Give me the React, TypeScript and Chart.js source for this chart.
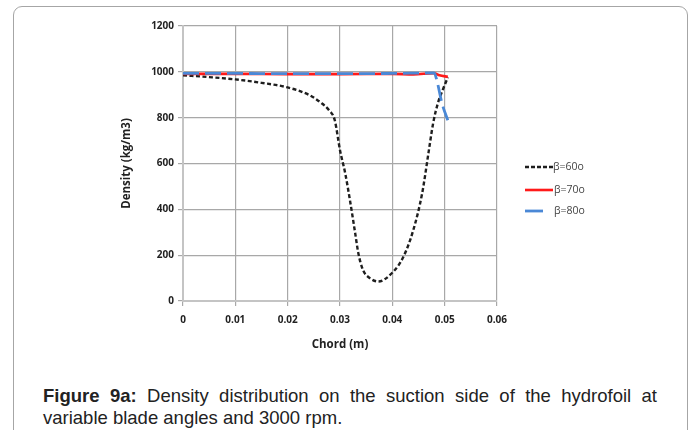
import React, { useEffect, useRef } from "react";
import { Chart, registerables } from "chart.js";

Chart.register(...registerables);

// Chord positions (m) and density (kg/m3) on the suction side
const chord60 = [0, 0.005, 0.01, 0.015, 0.02, 0.024, 0.0262, 0.028, 0.029, 0.03, 0.031, 0.0319, 0.0329, 0.0335, 0.0344, 0.0357, 0.0373, 0.0401, 0.0421, 0.044, 0.0457, 0.0469, 0.0478, 0.0487, 0.0497, 0.0506];
const density60 = [985, 977, 967, 952, 932, 900, 868, 830, 789, 658, 557, 440, 296, 209, 135, 100, 85, 126, 192, 309, 470, 645, 776, 863, 925, 976];

const chord70 = [0, 0.01, 0.02, 0.03, 0.04, 0.044, 0.048, 0.049, 0.0506];
const density70 = [991, 991, 990, 990, 991, 989, 994, 985, 978];

const chord80 = [0, 0.01, 0.02, 0.03, 0.04, 0.048, 0.0485, 0.0495, 0.0506];
const density80 = [993, 993, 992, 992, 993, 995, 963, 862, 789];

const seriesLabels = ["\u03b2=60o", "\u03b2=70o", "\u03b2=80o"];
const xTicks = [0, 0.01, 0.02, 0.03, 0.04, 0.05, 0.06];
const yTicks = [0, 200, 400, 600, 800, 1000, 1200];

const toPoints = (xs: number[], ys: number[]) => xs.map((x, i) => ({ x, y: ys[i] }));

const tickFont = { family: "'Open Sans', sans-serif", size: 10, weight: "bold" as const };
const titleFont = { family: "'Open Sans', sans-serif", size: 11.5, weight: "bold" as const };

// Vertical legend drawn to the right of the plot
const sideLegend = {
  id: "sideLegend",
  afterDraw(chart: any) {
    const ctx = chart.ctx;
    const rows = [
      { y: 157, x1: 415, x2: 443, tx: 443 },
      { y: 180, x1: 415, x2: 443, tx: 444 },
      { y: 201, x1: 415, x2: 433, tx: 444 },
    ];
    ctx.save();
    chart.data.datasets.forEach((ds: any, i: number) => {
      const r = rows[i];
      ctx.beginPath();
      ctx.strokeStyle = ds.borderColor;
      ctx.lineWidth = ds.borderWidth;
      ctx.setLineDash(i === 0 ? [4, 2] : []);
      ctx.moveTo(r.x1, r.y);
      ctx.lineTo(r.x2, r.y);
      ctx.stroke();
      ctx.setLineDash([]);
      ctx.fillStyle = "#444";
      ctx.font = "10.5px 'Open Sans', sans-serif";
      ctx.textBaseline = "middle";
      ctx.textAlign = "left";
      ctx.fillText(ds.label, r.tx, r.y);
    });
    ctx.restore();
  },
};

function DensityChart() {
  const ref = useRef<HTMLCanvasElement | null>(null);
  useEffect(() => {
    if (!ref.current) return;
    const chart = new Chart(ref.current, {
      type: "line",
      data: {
        datasets: [
          {
            label: seriesLabels[0],
            data: toPoints(chord60, density60),
            borderColor: "#1e1e1e",
            borderWidth: 2.4,
            borderDash: [4, 2.5],
            pointRadius: 0,
            cubicInterpolationMode: "monotone",
            order: 3,
          },
          {
            label: seriesLabels[1],
            data: toPoints(chord70, density70),
            borderColor: "#ff1a1a",
            borderWidth: 2.6,
            pointRadius: 0,
            cubicInterpolationMode: "monotone",
            order: 2,
          },
          {
            label: seriesLabels[2],
            data: toPoints(chord80, density80),
            borderColor: "#4a88d6",
            borderWidth: 2.8,
            borderDash: [16, 6],
            pointRadius: 0,
            cubicInterpolationMode: "monotone",
            order: 1,
          },
        ],
      },
      options: {
        responsive: false,
        animation: false,
        devicePixelRatio: 1,
        layout: { padding: { top: 16, right: 103, left: 0, bottom: 0 } },
        plugins: { legend: { display: false }, tooltip: { enabled: false } },
        scales: {
          x: {
            type: "linear",
            min: 0,
            max: 0.06,
            afterFit: (s: any) => {
              s.height = 59;
            },
            afterBuildTicks: (s: any) => {
              s.ticks = xTicks.map((v) => ({ value: v }));
            },
            ticks: {
              font: tickFont,
              color: "#222",
              padding: 8,
              callback: (v: any) => String(Number(Number(v).toFixed(2))),
            },
            grid: { color: "#a8a8a8", lineWidth: 1.2, tickLength: 5 },
            border: { color: "#c4c4c4", width: 2 },
            title: {
              display: true,
              text: "Chord (m)",
              font: titleFont,
              color: "#222",
              padding: { top: 0, bottom: 8 },
            },
          },
          y: {
            type: "linear",
            min: 0,
            max: 1200,
            afterFit: (s: any) => {
              s.width = 73;
            },
            afterBuildTicks: (s: any) => {
              s.ticks = yTicks.map((v) => ({ value: v }));
            },
            ticks: {
              font: tickFont,
              color: "#222",
              padding: 4,
              callback: (v: any) => String(v),
            },
            grid: { color: "#a8a8a8", lineWidth: 1.2, tickLength: 5 },
            border: { color: "#c4c4c4", width: 2 },
            title: {
              display: true,
              text: "Density (kg/m3)",
              font: titleFont,
              color: "#222",
              padding: { top: 10, bottom: 0 },
            },
          },
        },
      },
      plugins: [sideLegend],
    });
    return () => chart.destroy();
  }, []);
  return (
    <canvas
      ref={ref}
      width={490}
      height={350}
      style={{ position: "absolute", left: 110, top: 10, width: 490, height: 350 }}
    />
  );
}

export default function App() {
  return (
    <div>
      <div
        style={{
          position: "absolute",
          left: 13,
          top: 6,
          width: 675,
          height: 520,
          border: "1.5px solid #a6a6a6",
          borderRadius: 9,
          boxSizing: "border-box",
        }}
      />
      <DensityChart />
      <div
        style={{
          position: "absolute",
          left: 43,
          top: 385,
          width: 614,
          fontFamily: "'Liberation Sans', Arial, sans-serif",
          fontSize: 18.5,
          lineHeight: "22px",
          textAlign: "justify",
          color: "#222",
        }}
      >
        <b>Figure 9a:</b> Density distribution on the suction side of the hydrofoil at variable blade angles and 3000 rpm.
      </div>
    </div>
  );
}
